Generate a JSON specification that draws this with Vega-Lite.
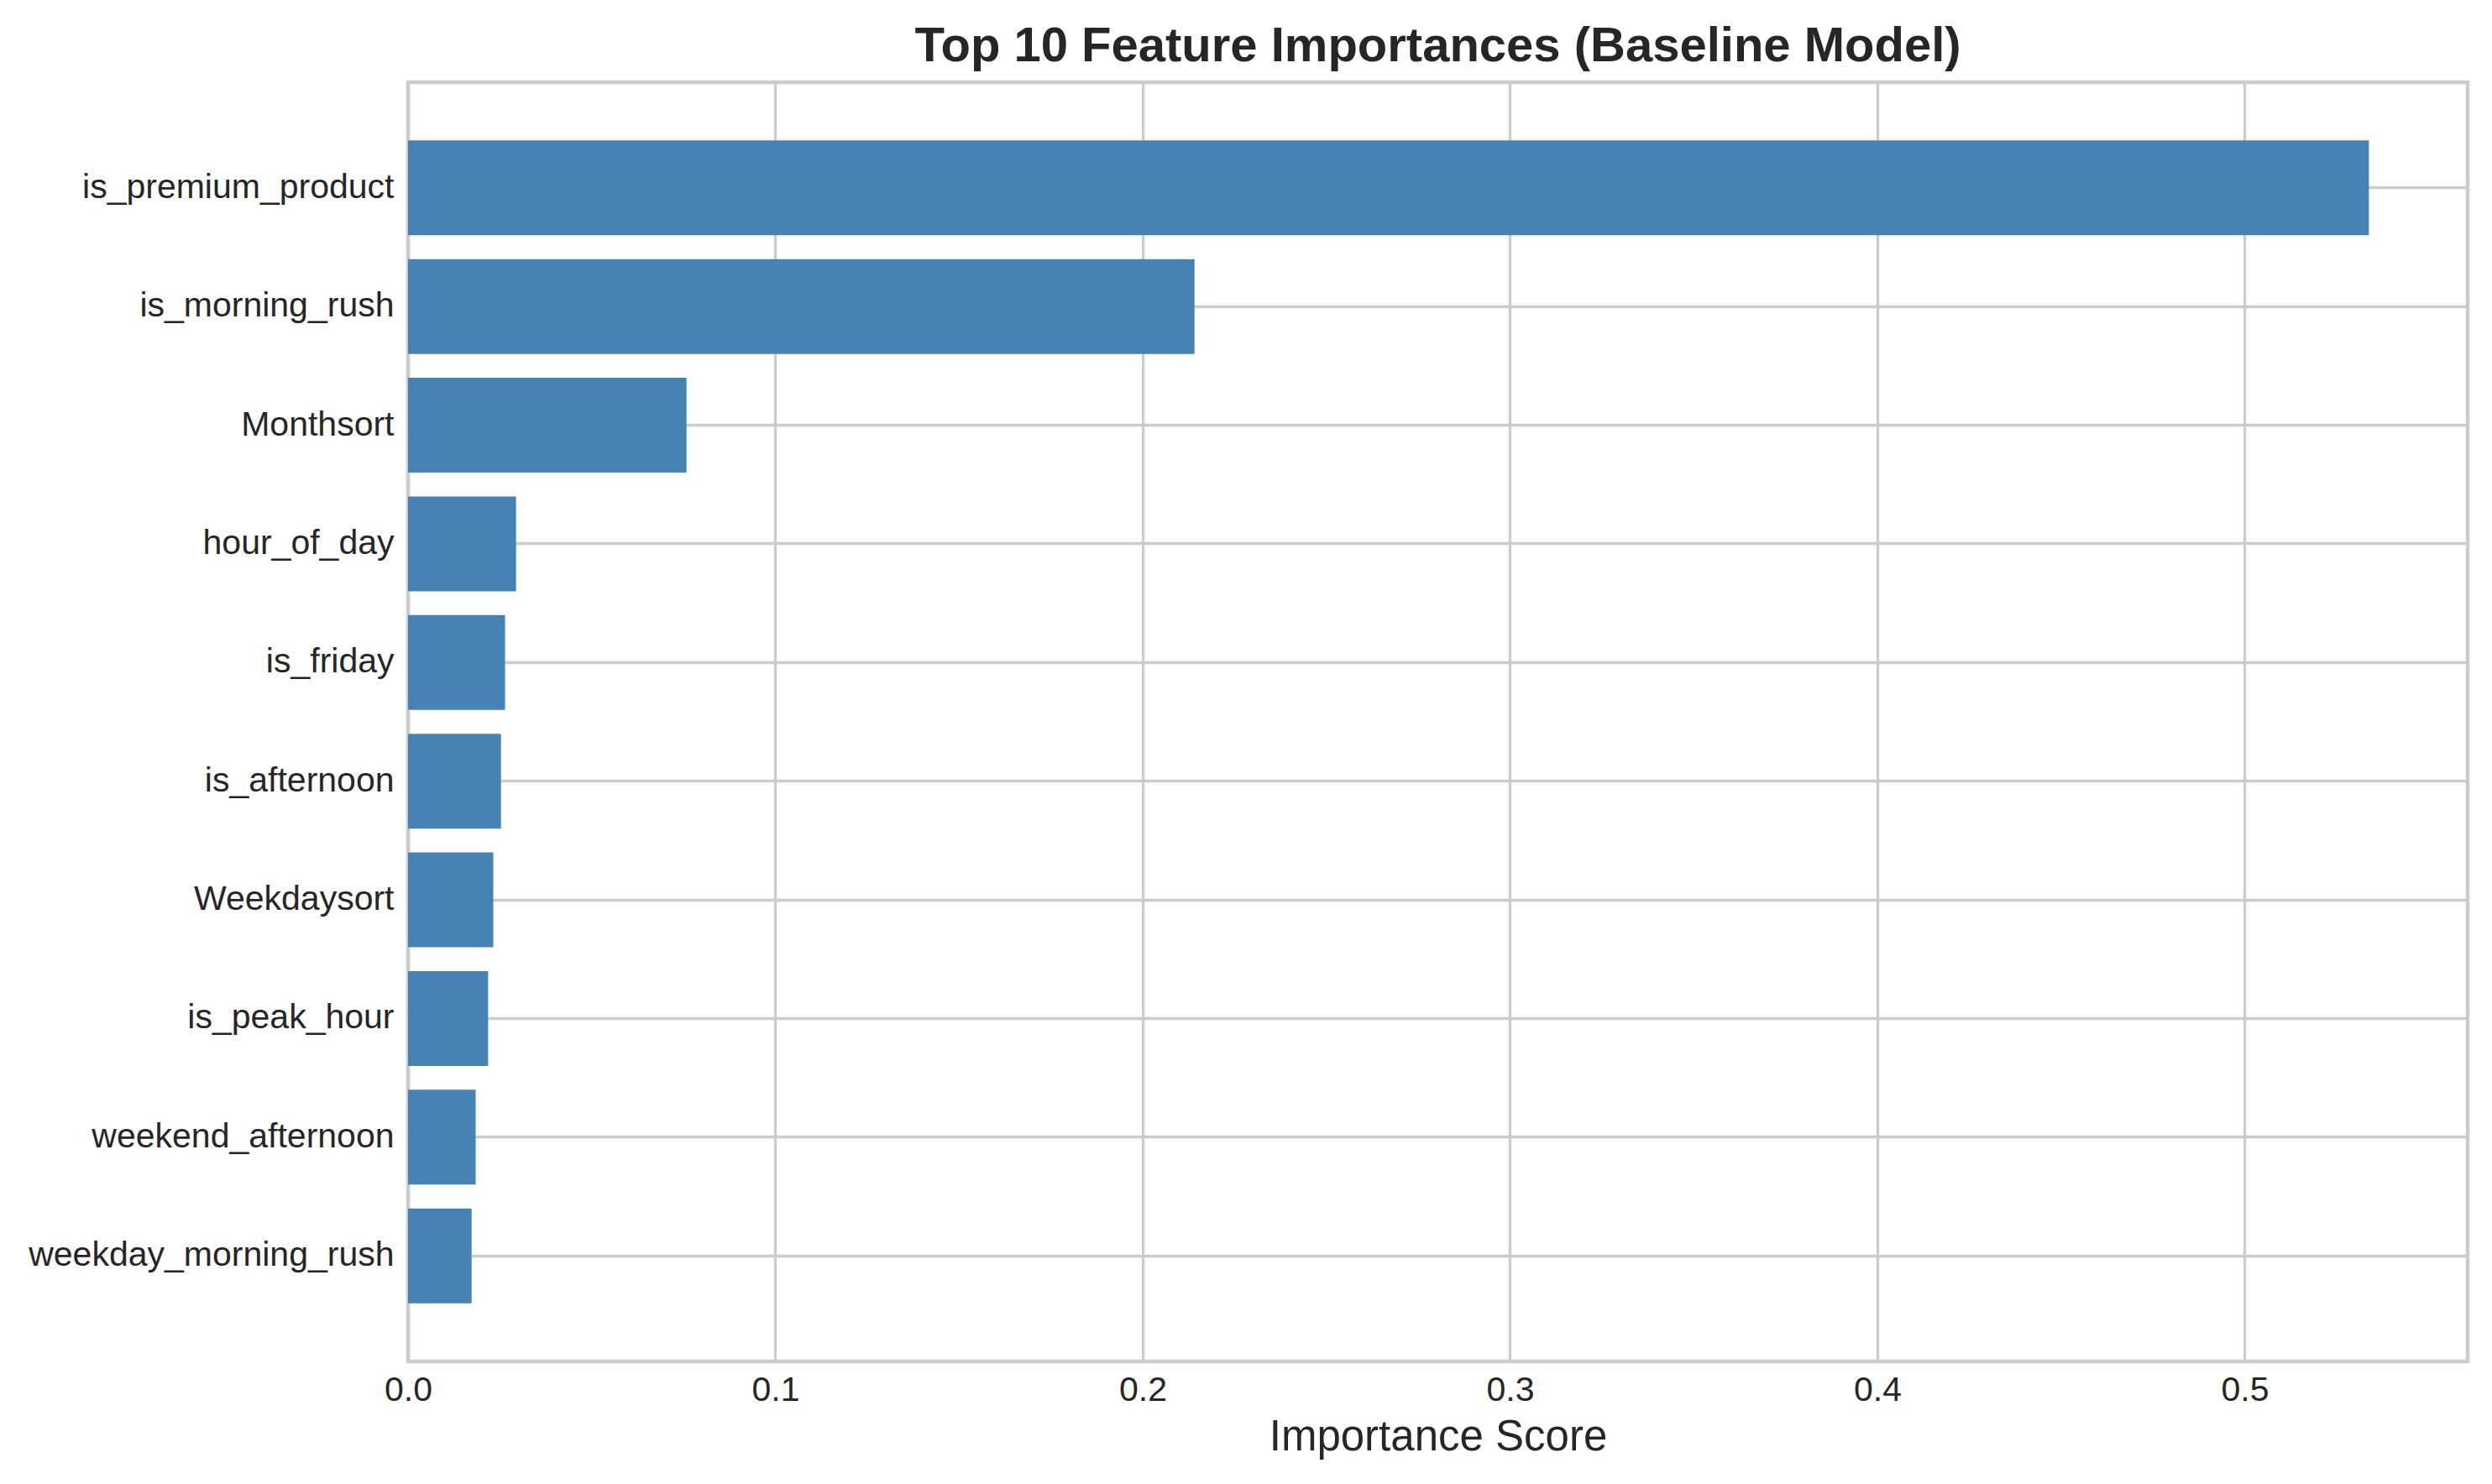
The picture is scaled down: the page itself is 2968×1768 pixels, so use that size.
{
  "$schema": "https://vega.github.io/schema/vega-lite/v6.json",
  "width": 2453,
  "height": 1524,
  "autosize": {"type": "none"},
  "padding": {"left": 486, "top": 98, "right": 29, "bottom": 146},
  "background": "white",
  "title": {
    "text": "Top 10 Feature Importances (Baseline Model)",
    "font": "Liberation Sans",
    "fontSize": 58,
    "fontWeight": "bold",
    "color": "#262626",
    "anchor": "middle",
    "baseline": "alphabetic",
    "offset": -33
  },
  "data": {
    "values": [
      {"feature": "is_premium_product", "importance": 0.5338},
      {"feature": "is_morning_rush", "importance": 0.2141},
      {"feature": "Monthsort", "importance": 0.0758},
      {"feature": "hour_of_day", "importance": 0.0294},
      {"feature": "is_friday", "importance": 0.0264},
      {"feature": "is_afternoon", "importance": 0.0253},
      {"feature": "Weekdaysort", "importance": 0.0232},
      {"feature": "is_peak_hour", "importance": 0.0218},
      {"feature": "weekend_afternoon", "importance": 0.0184},
      {"feature": "weekday_morning_rush", "importance": 0.0173}
    ]
  },
  "mark": {"type": "bar", "color": "#4682b4"},
  "encoding": {
    "y": {
      "field": "feature",
      "type": "nominal",
      "sort": null,
      "scale": {"paddingInner": 0.2, "paddingOuter": 0.49},
      "axis": {
        "title": null,
        "grid": true,
        "bandPosition": 0.5,
        "domain": false,
        "ticks": false,
        "tickSize": 0,
        "labelPadding": 17,
        "labelLimit": 0,
        "labelFont": "Liberation Sans",
        "labelFontSize": 41,
        "labelColor": "#262626",
        "gridColor": "#cccccc",
        "gridWidth": 3.3
      }
    },
    "x": {
      "field": "importance",
      "type": "quantitative",
      "scale": {"domain": [0, 0.5607], "nice": false, "zero": true},
      "axis": {
        "title": "Importance Score",
        "titleFont": "Liberation Sans",
        "titleFontSize": 51,
        "titleFontWeight": "normal",
        "titleColor": "#262626",
        "titlePadding": 11,
        "values": [0, 0.1, 0.2, 0.3, 0.4, 0.5],
        "format": ".1f",
        "domain": false,
        "ticks": false,
        "tickSize": 0,
        "labelFlush": false,
        "labelPadding": 14,
        "labelFont": "Liberation Sans",
        "labelFontSize": 41,
        "labelColor": "#262626",
        "gridColor": "#cccccc",
        "gridWidth": 3.3
      }
    }
  },
  "config": {
    "view": {"stroke": "#cccccc", "strokeWidth": 4.5}
  }
}
